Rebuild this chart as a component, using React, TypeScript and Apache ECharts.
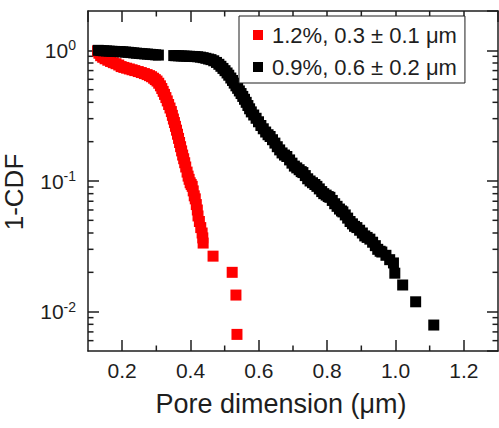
import React, { useEffect, useRef } from "react";
import * as echarts from "echarts";

const seriesNames = ["1.2%, 0.3 ± 0.1 μm", "0.9%, 0.6 ± 0.2 μm"];
const seriesColors = ["#ff0000", "#000000"];

const redPoints: [number, number][] = [
  [0.128, 0.99], [0.132, 0.95], [0.137, 0.91], [0.143, 0.885], [0.15, 0.862], [0.158, 0.84],
  [0.166, 0.822], [0.174, 0.805], [0.182, 0.79], [0.19, 0.772], [0.197, 0.751], [0.205, 0.74],
  [0.213, 0.73], [0.221, 0.72], [0.229, 0.71], [0.237, 0.7], [0.247, 0.688], [0.256, 0.676],
  [0.265, 0.664], [0.273, 0.652], [0.28, 0.64], [0.286, 0.628], [0.292, 0.612], [0.297, 0.597],
  [0.302, 0.582], [0.307, 0.56], [0.312, 0.535], [0.316, 0.51], [0.32, 0.485], [0.324, 0.46],
  [0.328, 0.435], [0.332, 0.41], [0.336, 0.385], [0.34, 0.362], [0.344, 0.34], [0.347, 0.318],
  [0.35, 0.298], [0.353, 0.28], [0.356, 0.262], [0.359, 0.245], [0.362, 0.228], [0.365, 0.212],
  [0.368, 0.197], [0.371, 0.183], [0.374, 0.17], [0.377, 0.158], [0.38, 0.148], [0.383, 0.138],
  [0.386, 0.128], [0.39, 0.117], [0.393, 0.109], [0.396, 0.103], [0.399, 0.097], [0.402, 0.094],
  [0.405, 0.091], [0.408, 0.084], [0.411, 0.077], [0.414, 0.073], [0.417, 0.066], [0.42, 0.06],
  [0.422, 0.054], [0.426, 0.049], [0.43, 0.044], [0.434, 0.04], [0.436, 0.0367], [0.437, 0.0335],
  [0.466, 0.0266], [0.522, 0.02], [0.533, 0.0134], [0.536, 0.0067],
];

const blackPoints: [number, number][] = [
  [0.13, 1.0], [0.138, 0.996], [0.146, 0.992], [0.154, 0.989], [0.162, 0.986], [0.17, 0.983],
  [0.178, 0.981], [0.186, 0.979], [0.194, 0.977], [0.202, 0.974], [0.21, 0.97], [0.218, 0.966],
  [0.226, 0.961], [0.234, 0.956], [0.242, 0.951], [0.25, 0.947], [0.258, 0.943], [0.266, 0.939],
  [0.274, 0.936], [0.282, 0.932], [0.29, 0.928], [0.298, 0.924], [0.306, 0.92],
  [0.351, 0.912], [0.357, 0.91], [0.365, 0.908], [0.373, 0.906], [0.381, 0.904], [0.389, 0.902],
  [0.397, 0.9], [0.405, 0.898], [0.413, 0.896], [0.421, 0.893], [0.429, 0.887], [0.437, 0.879],
  [0.445, 0.869], [0.453, 0.858], [0.46, 0.849], [0.468, 0.832], [0.476, 0.808], [0.483, 0.782],
  [0.489, 0.755], [0.495, 0.727], [0.501, 0.699], [0.507, 0.671], [0.512, 0.645], [0.518, 0.614],
  [0.523, 0.588], [0.528, 0.561], [0.533, 0.535], [0.538, 0.512], [0.543, 0.489], [0.548, 0.467],
  [0.553, 0.444], [0.558, 0.422], [0.563, 0.4], [0.568, 0.378], [0.573, 0.357], [0.578, 0.338],
  [0.585, 0.32], [0.592, 0.302], [0.599, 0.284], [0.606, 0.266], [0.613, 0.251], [0.62, 0.237],
  [0.627, 0.226], [0.633, 0.219], [0.64, 0.207], [0.647, 0.195], [0.654, 0.183], [0.661, 0.173],
  [0.668, 0.164], [0.675, 0.158], [0.682, 0.154], [0.69, 0.145], [0.697, 0.137], [0.704, 0.13],
  [0.711, 0.126], [0.718, 0.122], [0.724, 0.118], [0.729, 0.116], [0.736, 0.11], [0.743, 0.104],
  [0.75, 0.1], [0.757, 0.097], [0.764, 0.094], [0.77, 0.091], [0.777, 0.087], [0.784, 0.083],
  [0.79, 0.08], [0.797, 0.078], [0.803, 0.076], [0.808, 0.075], [0.815, 0.071], [0.822, 0.067],
  [0.829, 0.064], [0.836, 0.061], [0.842, 0.059], [0.846, 0.058], [0.853, 0.055], [0.86, 0.052],
  [0.867, 0.049], [0.874, 0.047], [0.88, 0.045], [0.887, 0.044], [0.895, 0.042], [0.903, 0.04],
  [0.91, 0.038], [0.917, 0.037], [0.925, 0.0359], [0.933, 0.034], [0.941, 0.032], [0.948, 0.03],
  [0.955, 0.029], [0.96, 0.0286], [0.972, 0.027], [0.983, 0.025], [0.994, 0.0236], [0.998, 0.0197],
  [1.021, 0.016], [1.059, 0.0119], [1.112, 0.0079],
];

const xMin = 0.1;
const xMax = 1.3;
const yMin = 0.005;
const yMax = 2;
const xMinorTicks = [0.3, 0.5, 0.7, 0.9, 1.1];
const yMinorTicks = [
  0.006, 0.007, 0.008, 0.009,
  0.02, 0.03, 0.04, 0.05, 0.06, 0.07, 0.08, 0.09,
  0.2, 0.3, 0.4, 0.5, 0.6, 0.7, 0.8, 0.9,
];
const xTitle = "Pore dimension (μm)";
const yTitle = "1-CDF";

const FONT = "'Liberation Sans', Arial, Helvetica, sans-serif";
const INK = "#1e1e1e";
const AXIS_W = 1.5;
const MARK = 11;

export default function App() {
  const ref = useRef<HTMLDivElement>(null);
  useEffect(() => {
    document.body.style.margin = "0";
    if (!ref.current) return;
    const chart = echarts.init(ref.current, null, { renderer: "svg" });
    const axisCommon = {
      type: "value",
      min: xMin,
      max: xMax,
      splitLine: { show: false },
      axisLine: { show: true, lineStyle: { color: INK, width: AXIS_W } },
      axisTick: { show: true, inside: true, length: 11, lineStyle: { color: INK, width: AXIS_W } },
    };
    const yCommon = {
      type: "log",
      logBase: 10,
      min: yMin,
      max: yMax,
      splitLine: { show: false },
      axisLine: { show: true, lineStyle: { color: INK, width: AXIS_W } },
      axisTick: { show: true, inside: true, length: 11, lineStyle: { color: INK, width: AXIS_W } },
    };
    const option: any = {
      animation: false,
      textStyle: { fontFamily: FONT },
      grid: { left: 88, top: 11, width: 410, height: 340 },
      legend: {
        data: seriesNames,
        left: 239,
        top: 16,
        orient: "vertical",
        icon: "rect",
        itemWidth: 10,
        itemHeight: 10,
        itemGap: 10,
        padding: [8, 8, 5, 14],
        borderColor: INK,
        borderWidth: 1,
        backgroundColor: "#fff",
        textStyle: { fontSize: 22, color: INK, fontFamily: FONT, padding: [0, 0, 0, 4] },
      },
      xAxis: [
        {
          ...axisCommon,
          position: "bottom",
          axisLabel: {
            show: true,
            fontSize: 21,
            color: INK,
            margin: 9,
            fontFamily: FONT,
            showMinLabel: false,
            showMaxLabel: false,
            formatter: (v: number) => v.toFixed(1),
          },
        },
        { ...axisCommon, position: "top", axisLabel: { show: false } },
      ],
      yAxis: [
        {
          ...yCommon,
          position: "left",
          axisLabel: {
            show: true,
            margin: 12,
            color: INK,
            fontFamily: FONT,
            showMinLabel: false,
            showMaxLabel: false,
            formatter: (v: number) => {
              const e = Math.log10(v);
              if (Math.abs(e - Math.round(e)) > 1e-6) return "";
              return `{b|10}{s|${Math.round(e)}}`;
            },
            rich: {
              b: { fontSize: 21, lineHeight: 24, color: INK, fontFamily: FONT },
              s: { fontSize: 14, lineHeight: 8, verticalAlign: "top", color: INK, fontFamily: FONT },
            },
          },
        },
        { ...yCommon, position: "right", axisLabel: { show: false } },
      ],
      series: [
        {
          name: seriesNames[0],
          type: "scatter",
          symbol: "rect",
          symbolSize: MARK,
          itemStyle: { color: seriesColors[0], opacity: 1 },
          data: redPoints,
          xAxisIndex: 0,
          yAxisIndex: 0,
        },
        {
          name: seriesNames[1],
          type: "scatter",
          symbol: "rect",
          symbolSize: MARK,
          itemStyle: { color: seriesColors[1], opacity: 1 },
          data: blackPoints,
          xAxisIndex: 0,
          yAxisIndex: 0,
        },
        {
          name: "xMinor",
          type: "custom",
          silent: true,
          xAxisIndex: 0,
          yAxisIndex: 0,
          data: xMinorTicks.map((v) => [v, 1]),
          renderItem: (params: any, api: any) => {
            const cs = params.coordSys;
            const x = api.coord([api.value(0), api.value(1)])[0];
            const style = { stroke: INK, lineWidth: AXIS_W };
            return {
              type: "group",
              children: [
                { type: "line", shape: { x1: x, y1: cs.y + cs.height, x2: x, y2: cs.y + cs.height - 5.5 }, style },
                { type: "line", shape: { x1: x, y1: cs.y, x2: x, y2: cs.y + 5.5 }, style },
              ],
            };
          },
        },
        {
          name: "yMinor",
          type: "custom",
          silent: true,
          xAxisIndex: 0,
          yAxisIndex: 0,
          data: yMinorTicks.map((v) => [xMin, v]),
          renderItem: (params: any, api: any) => {
            const cs = params.coordSys;
            const y = api.coord([api.value(0), api.value(1)])[1];
            const style = { stroke: INK, lineWidth: AXIS_W };
            return {
              type: "group",
              children: [
                { type: "line", shape: { x1: cs.x, y1: y, x2: cs.x + 5.5, y2: y }, style },
                { type: "line", shape: { x1: cs.x + cs.width - 5.5, y1: y, x2: cs.x + cs.width, y2: y }, style },
              ],
            };
          },
        },
      ],
      graphic: [
        {
          type: "text",
          x: 281,
          y: 404,
          style: {
            text: xTitle,
            fontSize: 27,
            fontFamily: FONT,
            fill: INK,
            align: "center",
            verticalAlign: "middle",
          },
        },
        {
          type: "text",
          x: 14,
          y: 192,
          rotation: Math.PI / 2,
          style: {
            text: yTitle,
            fontSize: 26,
            fontFamily: FONT,
            fill: INK,
            align: "center",
            verticalAlign: "middle",
          },
        },
      ],
    };
    chart.setOption(option);
    return () => chart.dispose();
  }, []);
  return <div ref={ref} style={{ width: 499, height: 428 }} />;
}
